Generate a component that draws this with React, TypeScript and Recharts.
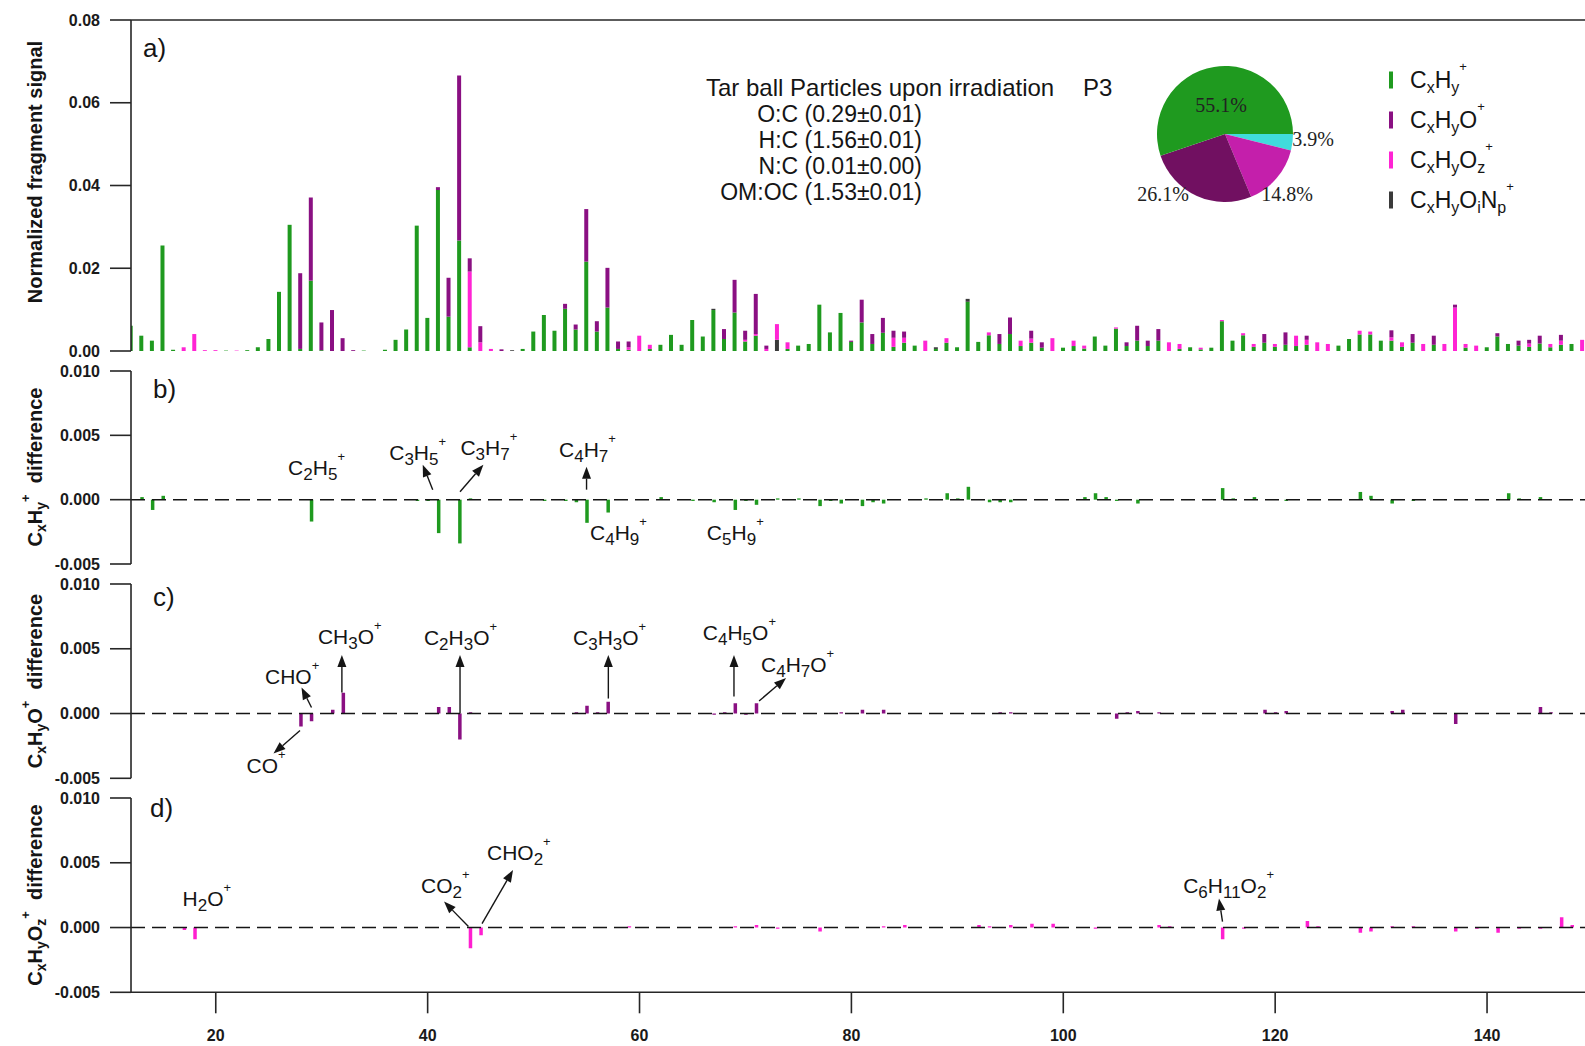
import React from "react";
import {
  BarChart,
  Bar,
  XAxis,
  YAxis,
  ReferenceLine,
  ReferenceDot,
  PieChart,
  Pie,
  Cell,
  Legend,
} from "recharts";

// m/z values shown in panel a)
const MZ = [
  12, 13, 14, 15, 16, 17, 18, 19, 20, 21,
  22, 23, 24, 25, 26, 27, 28, 29, 30, 31,
  32, 33, 34, 35, 36, 37, 38, 39, 40, 41,
  42, 43, 44, 45, 46, 47, 48, 49, 50, 51,
  52, 53, 54, 55, 56, 57, 58, 59, 60, 61,
  62, 63, 64, 65, 66, 67, 68, 69, 70, 71,
  72, 73, 74, 75, 76, 77, 78, 79, 80, 81,
  82, 83, 84, 85, 86, 87, 88, 89, 90, 91,
  92, 93, 94, 95, 96, 97, 98, 99, 100, 101,
  102, 103, 104, 105, 106, 107, 108, 109, 110, 111,
  112, 113, 114, 115, 116, 117, 118, 119, 120, 121,
  122, 123, 124, 125, 126, 127, 128, 129, 130, 131,
  132, 133, 134, 135, 136, 137, 138, 139, 140, 141,
  142, 143, 144, 145, 146, 147, 148, 149,
];

// CxHy+ family
const CXHY = [
  0.0061, 0.0037, 0.0025, 0.0255, 0.0003, 0, 0, 0, 0, 0.0001,
  0, 0.0002, 0.0009, 0.0029, 0.0143, 0.0305, 0.0005, 0.017, 0.0002, 0,
  0, 0, 0.0001, 0, 0.0003, 0.0027, 0.0052, 0.0303, 0.008, 0.0389,
  0.0083, 0.0267, 0.0009, 0, 0, 0, 0, 0.0005, 0.0047, 0.0087,
  0.0049, 0.0102, 0.0052, 0.0216, 0.0047, 0.0105, 0.0005, 0.0003, 0, 0.0005,
  0.0015, 0.0039, 0.0015, 0.0075, 0.0035, 0.0099, 0.0029, 0.0093, 0.0023, 0.0037,
  0, 0, 0.0005, 0.0013, 0.0017, 0.0112, 0.0045, 0.0092, 0.0022, 0.0069,
  0.0017, 0.0044, 0.001, 0.002, 0.0013, 0, 0.0005, 0.002, 0.0009, 0.0119,
  0.0022, 0.0038, 0.0017, 0.0041, 0.0012, 0.002, 0.0008, 0, 0.0008, 0.0012,
  0.0006, 0.0035, 0.0013, 0.0054, 0.0012, 0.0025, 0.0012, 0.0025, 0, 0.0005,
  0.0009, 0.0004, 0.0008, 0.0072, 0.0025, 0.0038, 0.001, 0.002, 0.001, 0.0015,
  0.0012, 0.0015, 0, 0, 0.0013, 0.0029, 0.004, 0.004, 0.0025, 0.0025,
  0.001, 0.002, 0, 0.0015, 0, 0, 0.0008, 0, 0.0009, 0.0035,
  0.0017, 0.0013, 0.001, 0.0018, 0.0009, 0.0015, 0.0017, 0,
];

// CxHyO+ family
const CXHYO = [
  0, 0, 0, 0, 0, 0, 0, 0, 0, 0,
  0, 0, 0, 0, 0, 0, 0.0183, 0.0201, 0.0067, 0.0099,
  0.0031, 0.0002, 0, 0, 0, 0, 0, 0, 0, 0.0007,
  0.0094, 0.0399, 0.0032, 0.0039, 0, 0.0004, 0, 0, 0, 0,
  0, 0.0012, 0.0012, 0.0127, 0.0025, 0.0096, 0.0018, 0.0014, 0, 0,
  0, 0, 0, 0, 0, 0, 0.0024, 0.0079, 0.0022, 0.0097,
  0.0008, 0, 0, 0, 0, 0, 0, 0, 0.0003, 0.0055,
  0.0024, 0.0036, 0.0017, 0.0015, 0, 0, 0, 0, 0, 0,
  0, 0, 0.0024, 0.004, 0, 0.0019, 0.0013, 0, 0, 0,
  0, 0, 0, 0, 0.0009, 0.0036, 0.0013, 0.0028, 0, 0,
  0, 0, 0, 0, 0, 0, 0, 0.0021, 0, 0.003,
  0, 0.001, 0, 0, 0, 0, 0, 0, 0, 0.0017,
  0, 0.0021, 0, 0.0022, 0, 0.0007, 0, 0, 0, 0.0008,
  0, 0.0012, 0.0009, 0.0019, 0, 0.0014, 0, 0,
];

// CxHyOz+ family
const CXHYOZ = [
  0, 0, 0, 0, 0, 0.0009, 0.0041, 0.0002, 0.0002, 0,
  0.0001, 0, 0, 0, 0, 0, 0, 0, 0, 0,
  0, 0, 0, 0, 0, 0, 0, 0, 0, 0,
  0, 0, 0.0183, 0.0021, 0.0005, 0, 0, 0, 0, 0,
  0, 0, 0, 0, 0, 0, 0, 0.0006, 0.0037, 0.001,
  0, 0, 0, 0, 0, 0, 0, 0, 0.0004, 0.0004,
  0.0005, 0.0038, 0.0016, 0, 0, 0, 0, 0, 0, 0,
  0, 0, 0.0022, 0.0012, 0, 0.0025, 0, 0.0011, 0, 0,
  0, 0.0007, 0, 0, 0.0013, 0.001, 0, 0.0031, 0, 0.0013,
  0.0007, 0, 0, 0.0003, 0, 0, 0, 0, 0.0021, 0.0012,
  0, 0.0004, 0, 0.0003, 0, 0.0005, 0.0007, 0, 0.0007, 0,
  0.0025, 0.0012, 0.0021, 0.0017, 0, 0, 0.0009, 0.0007, 0, 0.0008,
  0.0011, 0, 0.0017, 0, 0.0017, 0.0105, 0.0009, 0.0013, 0, 0,
  0, 0, 0.0008, 0, 0.0008, 0.001, 0, 0.0027,
];

// CxHyOiNp+ family (only a few non-zero peaks)
const NP_MZ = [48, 67, 73, 88, 91];
const NP_VAL = [0.0002, 0.0003, 0.0027, 0.0004, 0.0007];

// difference spectra
const DIFF_HC_MZ = [13, 14, 15, 29, 39, 40, 41, 43, 44, 51, 53, 54, 55, 57, 62, 65, 67, 69, 70, 71, 73, 75, 77, 78, 79, 81, 82, 83, 87, 89, 90, 91, 93, 94, 95, 102, 103, 104, 105, 107, 115, 116, 118, 121, 128, 129, 131, 133, 142, 143, 145];
const DIFF_HC = [0.0002, -0.0008, 0.0003, -0.0017, -0.0001, -0.0001, -0.0026, -0.0034, 0.0001, -0.0001, -0.0001, -0.0002, -0.0018, -0.001, 0.0002, -0.0001, -0.0002, -0.0008, -0.0001, -0.0004, 0.0001, 0.0001, -0.0005, -0.0001, -0.0003, -0.0005, -0.0002, -0.0003, 0.0001, 0.0005, 0.0001, 0.001, -0.0002, -0.0002, -0.0002, 0.0002, 0.0005, 0.0002, -0.0001, -0.0003, 0.0009, 0.0001, 0.0002, -0.0001, 0.0006, 0.0003, -0.0003, -0.0001, 0.0005, 0.0001, 0.0002];

const DIFF_O_MZ = [28, 29, 31, 32, 41, 42, 43, 44, 54, 55, 56, 57, 67, 68, 69, 70, 71, 79, 81, 83, 94, 95, 105, 106, 107, 109, 119, 120, 121, 131, 132, 137, 145, 146];
const DIFF_O = [-0.001, -0.0006, 0.0003, 0.0016, 0.0005, 0.0005, -0.002, 0.0001, 0.0001, 0.0006, 0.0001, 0.0009, -0.0001, 0.0001, 0.0008, -0.0001, 0.0008, 0.0001, 0.0003, 0.0003, 0.0001, 0.0001, -0.0004, 0.0001, 0.0002, 0.0001, 0.0003, 0.0001, 0.0002, 0.0002, 0.0003, -0.0008, 0.0005, 0.0001];

const DIFF_OZ_MZ = [17, 18, 44, 45, 59, 69, 71, 73, 77, 83, 85, 92, 93, 95, 97, 99, 103, 109, 110, 115, 117, 123, 124, 128, 129, 131, 133, 137, 139, 141, 143, 145, 147, 148];
const DIFF_OZ = [-0.0002, -0.0009, -0.0016, -0.0006, 0.0001, 0.0001, 0.0002, -0.0001, -0.0003, 0.0001, 0.0002, 0.0002, 0.0001, 0.0002, 0.0003, 0.0003, -0.0001, 0.0002, 0.0001, -0.0009, -0.0001, 0.0005, 0.0001, -0.0004, -0.0003, 0.0001, 0.0001, -0.0003, -0.0001, -0.0004, -0.0001, -0.0001, 0.0008, 0.0002];

// pie inset (clockwise from 3 o'clock)
const PIE_NAMES = ["CxHyOiNp", "CxHyOz", "CxHyO", "CxHy"];
const PIE_VALUES = [3.9, 14.8, 26.1, 55.1];

const X_TICKS = [20, 40, 60, 80, 100, 120, 140];
const Y_TICKS_A = [0, 0.02, 0.04, 0.06, 0.08];
const Y_TICKS_DIFF = [-0.005, 0, 0.005, 0.01];

const FONT = '"Liberation Sans", Arial, sans-serif';
const GREEN = "#1f9a1f";
const PURPLE = "#8a1082";
const MAGENTA = "#ff24d4";
const GRAY = "#3a3a3a";
const PIE_COLORS = ["#40dcdc", "#c41fab", "#711061", GREEN];
const AXIS = { stroke: "#262626", strokeWidth: 1.6 };
const TICK = { fontSize: 16, fontWeight: 700, fill: "#1a1a1a", fontFamily: FONT };

const CHART_W = 1593;
const Y_AXIS_W = 131;

const tableA = MZ.map((mz, i) => {
  const k = NP_MZ.indexOf(mz);
  return { mz, hc: CXHY[i], np: k >= 0 ? NP_VAL[k] : 0, oz: CXHYOZ[i], o: CXHYO[i] };
});
const toRows = (mz: number[], v: number[]) => mz.map((m, i) => ({ mz: m, v: v[i] }));

// annotation layout: offsets in px from the (m/z, 0) point
type Ann = { mz: number; f: string; lx: number; ly: number; arrow?: number[] };
const ANN_B: Ann[] = [
  { mz: 29, f: "C_2H_5^+", lx: -23, ly: -25 },
  { mz: 41, f: "C_3H_5^+", lx: -49, ly: -40, arrow: [-5.5, -10, -15.5, -35] },
  { mz: 43, f: "C_3H_7^+", lx: 1, ly: -45, arrow: [0.6, -8, 24, -35] },
  { mz: 55, f: "C_4H_7^+", lx: -27.5, ly: -43, arrow: [0, -10, 0, -33] },
  { mz: 57, f: "C_4H_9^+", lx: -17.7, ly: 40 },
  { mz: 69, f: "C_5H_9^+", lx: -28, ly: 40 },
];
const ANN_C: Ann[] = [
  { mz: 28, f: "CHO^+", lx: -35.5, ly: -30, arrow: [11, -6, 1, -26] },
  { mz: 28, f: "CO^+", lx: -54, ly: 59, arrow: [-0.5, 17, -27, 40] },
  { mz: 32, f: "CH_3O^+", lx: -25, ly: -69.5, arrow: [-1, -21, -1, -58.5] },
  { mz: 43, f: "C_2H_3O^+", lx: -35.5, ly: -68.5, arrow: [0.6, 0, 0.6, -58.5] },
  { mz: 57, f: "C_3H_3O^+", lx: -34.7, ly: -68.5, arrow: [0.6, -15, 0.6, -58.5] },
  { mz: 69, f: "C_4H_5O^+", lx: -32, ly: -73.5, arrow: [-0.9, -17, -0.9, -58.5] },
  { mz: 71, f: "C_4H_7O^+", lx: 5, ly: -41.5, arrow: [3, -12.5, 30, -35.5] },
];
const ANN_D: Ann[] = [
  { mz: 18, f: "H_2O^+", lx: -12, ly: -21.5 },
  { mz: 44, f: "CO_2^+", lx: -49, ly: -34.5, arrow: [-1.6, -1, -26, -26] },
  { mz: 44, f: "CHO_2^+", lx: 17, ly: -68, arrow: [12, -4, 43, -57.5] },
  { mz: 115, f: "C_6H_{11}O_2^+", lx: -39, ly: -34.5, arrow: [0.3, -6, -3.2, -29] },
];

const LEGEND_ORDER = ["hc", "o", "oz", "np"];
const LEGEND_TEXT: Record<string, string> = {
  hc: "C_xH_y^+",
  o: "C_xH_yO^+",
  oz: "C_xH_yO_z^+",
  np: "C_xH_yO_iN_p^+",
};
const SERIES_COLOR: Record<string, string> = { hc: GREEN, o: PURPLE, oz: MAGENTA, np: GRAY };

type Part = { t: string; k: "n" | "sub" | "sup" };
function parseFormula(s: string): Part[] {
  const parts: Part[] = [];
  let i = 0;
  while (i < s.length) {
    const c = s[i];
    if (c === "_" || c === "^") {
      let t;
      if (s[i + 1] === "{") {
        const e = s.indexOf("}", i + 2);
        t = s.slice(i + 2, e);
        i = e + 1;
      } else {
        t = s[i + 1];
        i += 2;
      }
      parts.push({ t, k: c === "_" ? "sub" : "sup" });
    } else {
      let j = i;
      while (j < s.length && s[j] !== "_" && s[j] !== "^") j++;
      parts.push({ t: s.slice(i, j), k: "n" });
      i = j;
    }
  }
  return parts;
}

function Formula({ x, y, f, size = 21, sub = 17, sup = 13, subDy = 5, supDy = -14, anchor = "start", weight = 400, transform, family = FONT }: any) {
  let cur = 0;
  return (
    <text x={x} y={y} fontSize={size} fontWeight={weight} textAnchor={anchor} transform={transform} fill="#151515" fontFamily={family} style={{ whiteSpace: "pre" }}>
      {parseFormula(f).map((p, i) => {
        const target = p.k === "sub" ? subDy : p.k === "sup" ? supDy : 0;
        const dy = target - cur;
        cur = target;
        return (
          <tspan key={i} dy={dy} fontSize={p.k === "sub" ? sub : p.k === "sup" ? sup : size}>
            {p.t}
          </tspan>
        );
      })}
    </text>
  );
}

function Arrow({ x1, y1, x2, y2 }: any) {
  const a = Math.atan2(y2 - y1, x2 - x1);
  const L = 12;
  const W = 4.5;
  const bx = x2 - L * Math.cos(a);
  const by = y2 - L * Math.sin(a);
  const px = -Math.sin(a) * W;
  const py = Math.cos(a) * W;
  return (
    <g>
      <line x1={x1} y1={y1} x2={bx} y2={by} stroke="#151515" strokeWidth={1.4} />
      <polygon points={`${x2},${y2} ${bx + px},${by + py} ${bx - px},${by - py}`} fill="#151515" />
    </g>
  );
}

function AnnMark({ cx, cy, a }: { cx: number; cy: number; a: Ann }) {
  if (cx == null || cy == null) return null;
  return (
    <g>
      {a.arrow && <Arrow x1={cx + a.arrow[0]} y1={cy + a.arrow[1]} x2={cx + a.arrow[2]} y2={cy + a.arrow[3]} />}
      <Formula x={cx + a.lx} y={cy + a.ly} f={a.f} />
    </g>
  );
}

function LegendBox({ payload }: any) {
  const colorOf = (k: string) => (payload || []).find((p: any) => p.dataKey === k)?.color ?? SERIES_COLOR[k];
  return (
    <svg width={200} height={170} style={{ display: "block" }}>
      {LEGEND_ORDER.map((k, i) => {
        const base = 33 + i * 40;
        return (
          <g key={k}>
            <rect x={9} y={base - 16.5} width={4} height={17} fill={colorOf(k)} />
            <Formula x={30} y={base} f={LEGEND_TEXT[k]} size={23} sub={16} sup={13} subDy={5} supDy={-17} />
          </g>
        );
      })}
    </svg>
  );
}

const PIE_LABEL_POS = [
  [88, 12],
  [62, 67],
  [-62, 67],
  [-4, -22],
];

function renderPieLabel(p: any) {
  const [dx, dy] = PIE_LABEL_POS[p.index];
  return (
    <text key={p.index} x={p.cx + dx} y={p.cy + dy} textAnchor="middle" fontFamily='"Liberation Serif", "Times New Roman", serif' fontSize={20} fill="#222">
      {`${PIE_VALUES[p.index].toFixed(1)}%`}
    </text>
  );
}

function DiffPanel({ top, height, data, color, anns, withX }: any) {
  return (
    <div style={{ position: "absolute", left: 0, top }}>
      <BarChart width={CHART_W} height={height} data={data} margin={{ top: 10, right: 0, bottom: withX ? 0 : 10, left: 0 }}>
        <XAxis
          type="number"
          dataKey="mz"
          domain={[12, 150]}
          allowDataOverflow
          hide={!withX}
          ticks={X_TICKS}
          interval={0}
          height={60}
          tickSize={21}
          tickMargin={16}
          axisLine={AXIS}
          tickLine={AXIS}
          tick={TICK}
        />
        <YAxis
          type="number"
          domain={[-0.005, 0.01]}
          ticks={Y_TICKS_DIFF}
          interval={0}
          width={Y_AXIS_W}
          tickSize={21}
          tickMargin={10}
          axisLine={AXIS}
          tickLine={AXIS}
          tick={TICK}
          tickFormatter={(v: number) => v.toFixed(3)}
        />
        <ReferenceLine y={0} stroke="#151515" strokeWidth={1.5} strokeDasharray="14 7" />
        <Bar dataKey="v" fill={color} barSize={3.5} isAnimationActive={false} />
        {anns.map((a: Ann, i: number) => (
          <ReferenceDot
            key={i}
            x={a.mz}
            y={0}
            r={0}
            ifOverflow="visible"
            shape={(p: any) => <AnnMark cx={p.cx} cy={p.cy} a={a} />}
          />
        ))}
      </BarChart>
    </div>
  );
}

export default function App() {
  return (
    <div style={{ position: "absolute", left: 0, top: 0, width: 1585, height: 1046, overflow: "hidden", background: "#fff", fontFamily: FONT }}>
      {/* a) stacked spectrum */}
      <div style={{ position: "absolute", left: 0, top: 0 }}>
        <BarChart width={CHART_W} height={360} data={tableA} margin={{ top: 20, right: 0, bottom: 9, left: 0 }}>
          <XAxis type="number" dataKey="mz" domain={[12, 150]} allowDataOverflow hide />
          <YAxis
            type="number"
            domain={[0, 0.08]}
            ticks={Y_TICKS_A}
            interval={0}
            width={Y_AXIS_W}
            tickSize={21}
            tickMargin={10}
            axisLine={AXIS}
            tickLine={AXIS}
            tick={TICK}
            tickFormatter={(v: number) => v.toFixed(2)}
          />
          <ReferenceLine y={0.08} stroke={AXIS.stroke} strokeWidth={AXIS.strokeWidth} />
          <Bar dataKey="hc" name="CxHy" stackId="s" fill={GREEN} barSize={4} isAnimationActive={false} />
          <Bar dataKey="np" name="CxHyOiNp" stackId="s" fill={GRAY} barSize={4} isAnimationActive={false} />
          <Bar dataKey="oz" name="CxHyOz" stackId="s" fill={MAGENTA} barSize={4} isAnimationActive={false} />
          <Bar dataKey="o" name="CxHyO" stackId="s" fill={PURPLE} barSize={4} isAnimationActive={false} />
          <Legend
            layout="vertical"
            align="center"
            verticalAlign="middle"
            wrapperStyle={{ left: 1380, top: 55, width: 200, height: 170 }}
            content={(props: any) => <LegendBox payload={props.payload} />}
          />
        </BarChart>
      </div>

      <DiffPanel top={361} height={213} data={toRows(DIFF_HC_MZ, DIFF_HC)} color={GREEN} anns={ANN_B} />
      <DiffPanel top={574} height={214.3} data={toRows(DIFF_O_MZ, DIFF_O)} color={PURPLE} anns={ANN_C} />
      <DiffPanel top={788} height={264.3} data={toRows(DIFF_OZ_MZ, DIFF_OZ)} color="#ff1fd0" anns={ANN_D} withX />

      {/* pie inset */}
      <div style={{ position: "absolute", left: 1090, top: 19 }}>
        <PieChart width={260} height={220}>
          <Pie
            data={PIE_NAMES.map((name, i) => ({ name, value: PIE_VALUES[i] }))}
            dataKey="value"
            nameKey="name"
            cx={130}
            cy={110}
            outerRadius={68}
            startAngle={0}
            endAngle={-360}
            stroke="none"
            labelLine={false}
            label={renderPieLabel}
            isAnimationActive={false}
          >
            {PIE_NAMES.map((n, i) => (
              <Cell key={n} fill={PIE_COLORS[i]} />
            ))}
          </Pie>
        </PieChart>
      </div>

      {/* texts */}
      <svg width={1585} height={1046} style={{ position: "absolute", left: 0, top: 0, pointerEvents: "none" }}>
        <g fontFamily={FONT} fontSize={26} fill="#151515">
          <text x={143} y={57}>a)</text>
          <text x={153} y={398}>b)</text>
          <text x={153} y={606}>c)</text>
          <text x={150} y={817}>d)</text>
        </g>
        <g fontFamily={FONT} fontSize={23} fill="#151515">
          <text x={706} y={96} fontSize={24}>Tar ball Particles upon irradiation</text>
          <text x={1083} y={96} fontSize={24}>P3</text>
          <text x={922} y={122} textAnchor="end">O:C (0.29±0.01)</text>
          <text x={922} y={148} textAnchor="end">H:C (1.56±0.01)</text>
          <text x={922} y={174} textAnchor="end">N:C (0.01±0.00)</text>
          <text x={922} y={200} textAnchor="end">OM:OC (1.53±0.01)</text>
        </g>
        <Formula x={42} y={172} f="Normalized fragment signal" anchor="middle" weight={700} size={20} transform="rotate(-90 42 172)" />
        <Formula x={42} y={467} f="C_xH_y^+  difference" anchor="middle" weight={700} size={20} sub={14} sup={13} subDy={4} supDy={-12} transform="rotate(-90 42 467)" />
        <Formula x={42} y={681} f="C_xH_yO^+  difference" anchor="middle" weight={700} size={20} sub={14} sup={13} subDy={4} supDy={-12} transform="rotate(-90 42 681)" />
        <Formula x={42} y={895} f="C_xH_yO_z^+  difference" anchor="middle" weight={700} size={20} sub={14} sup={13} subDy={4} supDy={-12} transform="rotate(-90 42 895)" />
      </svg>
    </div>
  );
}
